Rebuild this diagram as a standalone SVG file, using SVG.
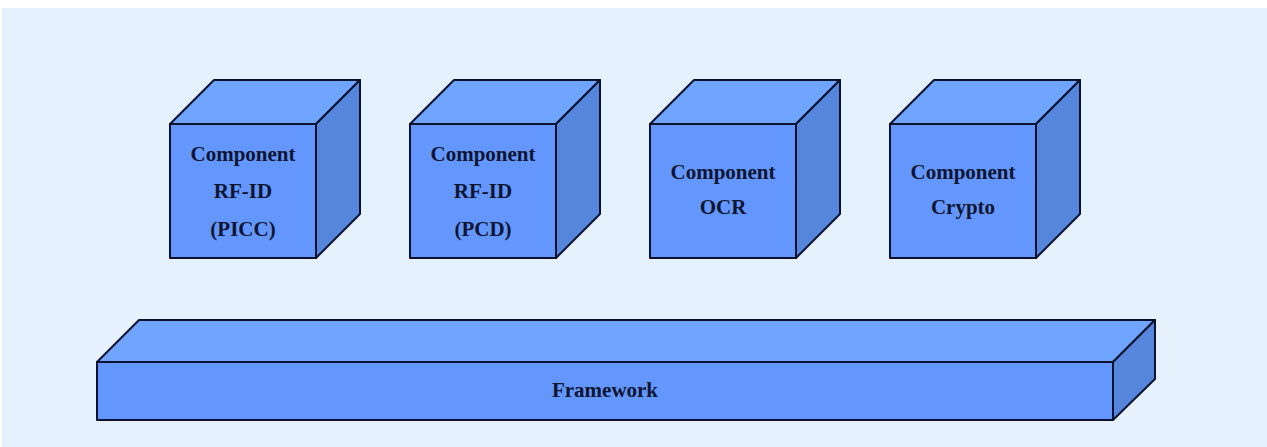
<svg xmlns="http://www.w3.org/2000/svg" width="1267" height="447" viewBox="0 0 1267 447">
<style>
.front{fill:#6497fe;stroke:#0b1230;stroke-width:2;stroke-linejoin:round}
.top{fill:#6fa4ff;stroke:#0b1230;stroke-width:2;stroke-linejoin:round}
.side{fill:#5685dc;stroke:#0b1230;stroke-width:2;stroke-linejoin:round}
.lbl{font-family:"Liberation Serif","Times New Roman",serif;font-weight:bold;font-size:21px;fill:#0d1530;text-anchor:middle}
</style>
<rect x="0" y="0" width="1267" height="447" fill="#ffffff"/>
<rect x="2" y="8" width="1265" height="439" fill="#e5f1fd"/>
<g id="cube-picc">
<polygon class="top" points="170,124 214,80 360,80 316,124"/>
<polygon class="side" points="316,124 360,80 360,214 316,258"/>
<rect class="front" x="170" y="124" width="146" height="134"/>
<text class="lbl" x="243" y="161">Component</text>
<text class="lbl" x="243" y="198">RF-ID</text>
<text class="lbl" x="243" y="236">(PICC)</text>
</g>
<g id="cube-pcd">
<polygon class="top" points="410,124 454,80 600,80 556,124"/>
<polygon class="side" points="556,124 600,80 600,214 556,258"/>
<rect class="front" x="410" y="124" width="146" height="134"/>
<text class="lbl" x="483" y="161">Component</text>
<text class="lbl" x="483" y="198">RF-ID</text>
<text class="lbl" x="483" y="236">(PCD)</text>
</g>
<g id="cube-ocr">
<polygon class="top" points="650,124 694,80 840,80 796,124"/>
<polygon class="side" points="796,124 840,80 840,214 796,258"/>
<rect class="front" x="650" y="124" width="146" height="134"/>
<text class="lbl" x="723" y="179">Component</text>
<text class="lbl" x="723" y="214">OCR</text>
</g>
<g id="cube-crypto">
<polygon class="top" points="890,124 934,80 1080,80 1036,124"/>
<polygon class="side" points="1036,124 1080,80 1080,214 1036,258"/>
<rect class="front" x="890" y="124" width="146" height="134"/>
<text class="lbl" x="963" y="179">Component</text>
<text class="lbl" x="963" y="214">Crypto</text>
</g>
<g id="framework">
<polygon class="top" points="97,362 139,320 1155,320 1113,362"/>
<polygon class="side" points="1113,362 1155,320 1155,379 1113,420"/>
<rect class="front" x="97" y="362" width="1016" height="58"/>
<text class="lbl" x="605" y="397">Framework</text>
</g>
<g id="connectors"/>
</svg>
